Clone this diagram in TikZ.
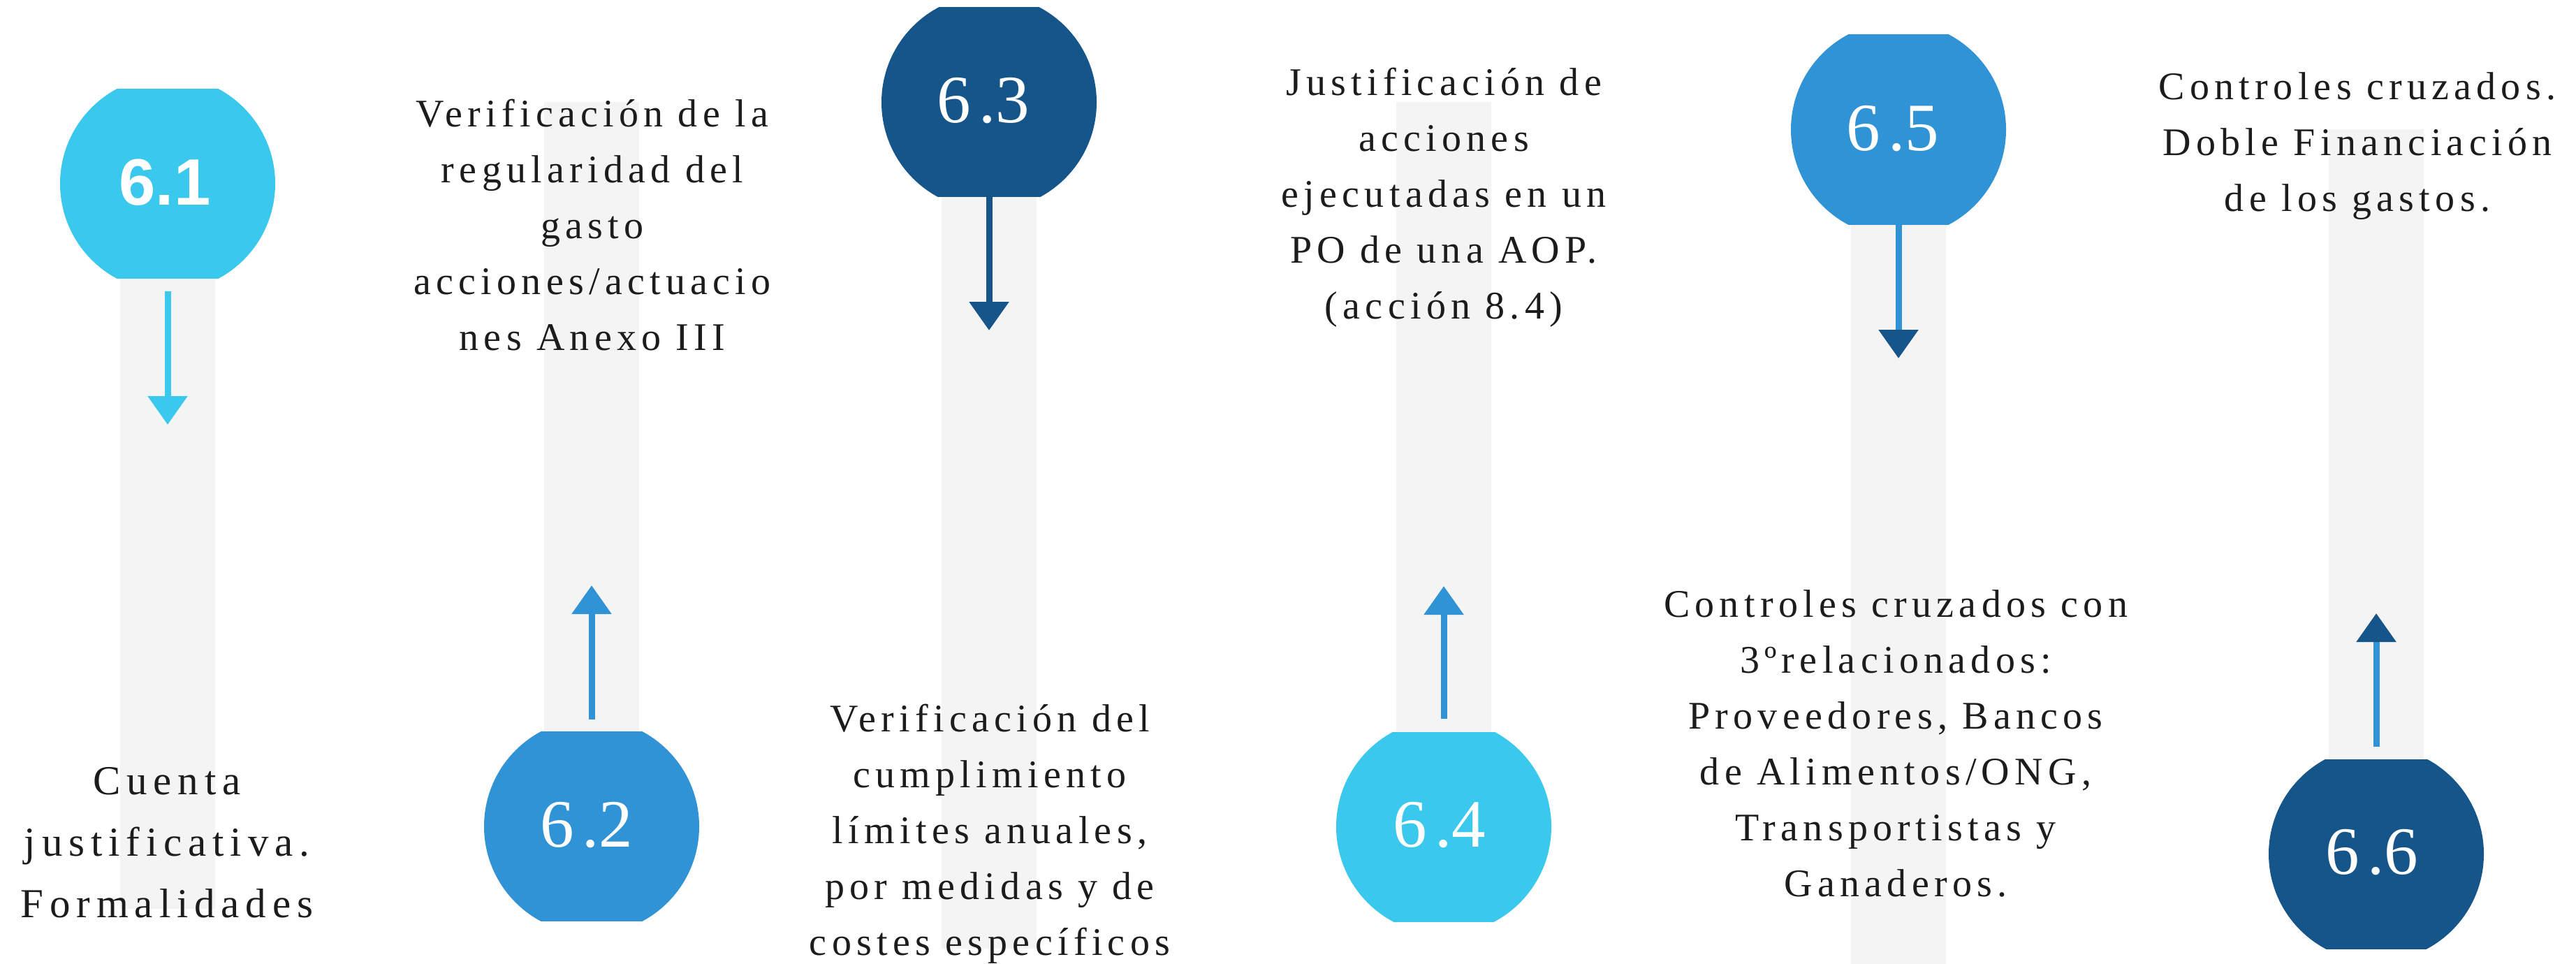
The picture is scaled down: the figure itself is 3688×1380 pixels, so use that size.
\documentclass[tikz,border=0pt]{standalone}
\usepackage{fontspec}
\setmainfont{Liberation Serif}
\newfontfamily\txtfont[LetterSpace=13]{Liberation Serif}
\newfontfamily\txtfontA[LetterSpace=15]{Liberation Serif}
\newfontfamily\numsans{Liberation Sans}
\usetikzlibrary{arrows.meta}
\definecolor{lightb}{HTML}{3AC8ED}
\definecolor{midb}{HTML}{2F93D6}
\definecolor{darkb}{HTML}{15558A}
\definecolor{barg}{HTML}{F4F4F4}
\definecolor{txt}{HTML}{1C1C1C}
\begin{document}
\begin{tikzpicture}[x=1pt,y=-1pt,
  ball/.style={rectangle, inner sep=0pt, minimum width=308pt, minimum height=271pt, fill=white,
    path picture={\fill[#1] (path picture bounding box.center) circle[radius=154pt];}},
  lab/.style={inner sep=0pt, text=white, font={\fontsize{97}{97}\selectfont}},
  labsans/.style={inner sep=0pt, text=white, font={\numsans\bfseries\fontsize{94}{94}\selectfont}},
  desc/.style={inner sep=0pt, anchor=base, text=txt, font={\txtfont\fontsize{56}{80}\selectfont}},
  descA/.style={inner sep=0pt, anchor=base, text=txt, font={\txtfontA\fontsize{59}{88}\selectfont}},
  bar/.style={fill=barg},
  arr/.style={line width=9pt, draw=#1, -{Triangle[width=55pt,length=41pt]}},
  arrtwo/.style={line width=9pt, draw=midb, -{Triangle[width=55pt,length=41pt,color=darkb]}}
]
\useasboundingbox (0,0) rectangle (3688,1380);
\fill[white] (0,0) rectangle (3688,1380);

% bars
\fill[bar] (172,263) rectangle (308,1301);
\fill[bar] (779,146) rectangle (915,1183);
\fill[bar] (1348,146) rectangle (1484,1358);
\fill[bar] (1999,146) rectangle (2135,1183);
\fill[bar] (2650,185) rectangle (2786,1380);
\fill[bar] (3334,185) rectangle (3470,1222);

% circles
\node[ball=lightb] (c1) at (240,263) {};
\node[ball=midb] (c2) at (847,1183) {};
\node[ball=darkb] (c3) at (1416,146.5) {};
\node[ball=lightb] (c4) at (2067,1183.5) {};
\node[ball=midb] (c5) at (2718,185.5) {};
\node[ball=darkb] (c6) at (3402,1222.5) {};

% labels
\node[labsans] (l1) at (236,261) {6.1};
\node[lab] (l2) at (840,1181) {6\kern.12em.2};
\node[lab] (l3) at (1408,144) {6\kern.12em.3};
\node[lab] (l4) at (2061,1181) {6\kern.12em.4};
\node[lab] (l5) at (2710,184) {6\kern.12em.5};
\node[lab] (l6) at (3396,1220) {6\kern.12em.6};

% arrows
\coordinate (a1s) at (240,417);  \coordinate (a1e) at (240,608);
\coordinate (a2s) at (847,1030); \coordinate (a2e) at (847,838);
\coordinate (a3s) at (1416,282); \coordinate (a3e) at (1416,473);
\coordinate (a4s) at (2067,1029); \coordinate (a4e) at (2067,839);
\coordinate (a5s) at (2718,322); \coordinate (a5e) at (2718,513);
\coordinate (a6s) at (3402,1069); \coordinate (a6e) at (3402,878);
\draw[arr=lightb] (a1s) -- (a1e);
\draw[arr=midb] (a2s) -- (a2e);
\draw[arr=darkb] (a3s) -- (a3e);
\draw[arr=midb] (a4s) -- (a4e);
\draw[arrtwo] (a5s) -- (a5e);
\draw[arrtwo] (a6s) -- (a6e);

% texts
\node[descA] (t1) at (239,1137) {\begin{tabular}[t]{@{}c@{}}Cuenta\\justificativa.\\Formalidades\end{tabular}};
\node[desc] (t2) at (848,182) {\begin{tabular}[t]{@{}c@{}}Verificación de la\\regularidad del\\gasto\\acciones/actuacio\\nes Anexo III\end{tabular}};
\node[desc] (t3) at (1417,1047) {\begin{tabular}[t]{@{}c@{}}Verificación del\\cumplimiento\\límites anuales,\\por medidas y de\\costes específicos\end{tabular}};
\node[desc] (t4) at (2067,137) {\begin{tabular}[t]{@{}c@{}}Justificación de\\acciones\\ejecutadas en un\\PO de una AOP.\\(acción 8.4)\end{tabular}};
\node[desc] (t5) at (2714,883) {\begin{tabular}[t]{@{}c@{}}Controles cruzados con\\3ºrelacionados:\\Proveedores, Bancos\\de Alimentos/ONG,\\Transportistas y\\Ganaderos.\end{tabular}};
\node[desc] (t6) at (3375,143) {\begin{tabular}[t]{@{}c@{}}Controles cruzados.\\Doble Financiación\\de los gastos.\end{tabular}};
\end{tikzpicture}
\end{document}
